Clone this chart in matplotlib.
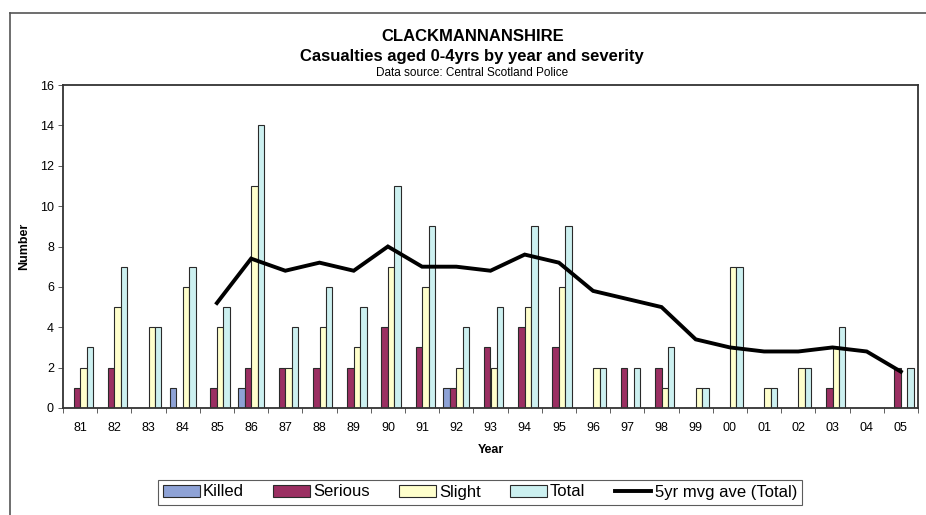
import matplotlib
matplotlib.use("Agg")
import matplotlib.pyplot as plt
import numpy as np
from matplotlib.lines import Line2D

plt.rcParams['font.family'] = ['Liberation Sans', 'DejaVu Sans']

years = ['81', '82', '83', '84', '85', '86', '87', '88', '89', '90', '91', '92', '93',
         '94', '95', '96', '97', '98', '99', '00', '01', '02', '03', '04', '05']
killed = [0, 0, 0, 1, 0, 1, 0, 0, 0, 0, 0, 1, 0, 0, 0, 0, 0, 0, 0, 0, 0, 0, 0, 0, 0]
serious = [1, 2, 0, 0, 1, 2, 2, 2, 2, 4, 3, 1, 3, 4, 3, 0, 2, 2, 0, 0, 0, 0, 1, 0, 2]
slight = [2, 5, 4, 6, 4, 11, 2, 4, 3, 7, 6, 2, 2, 5, 6, 2, 0, 1, 1, 7, 1, 2, 3, 0, 0]
total = [3, 7, 4, 7, 5, 14, 4, 6, 5, 11, 9, 4, 5, 9, 9, 2, 2, 3, 1, 7, 1, 2, 4, 0, 2]
# 5-year moving average of the totals, first available for 1985
mvg_ave = [None, None, None, None, 5.2, 7.4, 6.8, 7.2, 6.8, 8.0, 7.0, 7.0, 6.8,
           7.6, 7.2, 5.8, 5.4, 5.0, 3.4, 3.0, 2.8, 2.8, 3.0, 2.8, 1.8]

series = [('Killed', killed, '#8EA2D6'),
          ('Serious', serious, '#9B2F62'),
          ('Slight', slight, '#FFFFCC'),
          ('Total', total, '#CCF0F0')]

fig = plt.figure(figsize=(9.26, 5.15), dpi=100)
ax = fig.add_axes([63 / 926, 1 - 408 / 515, (918 - 63) / 926, (408 - 85) / 515])

x = np.arange(len(years))
bw = 0.19
for i, (name, vals, col) in enumerate(series):
    ax.bar(x + (i - 1.5) * bw, vals, width=bw, color=col, edgecolor='#2a2a2a',
           linewidth=0.8, label=name, zorder=2)

mx = [xi for xi, v in zip(x, mvg_ave) if v is not None]
my = [v for v in mvg_ave if v is not None]
ax.plot(mx, my, color='black', linewidth=2.8, zorder=3, solid_joinstyle='miter')

ax.set_xlim(-0.5, len(years) - 0.5)
ax.set_ylim(0, 16)
ax.set_yticks(range(0, 17, 2))
ax.set_xticks(np.arange(-0.5, len(years), 1.0))
ax.set_xticklabels([])
ax.set_xticks(x, minor=True)
ax.set_xticklabels(years, minor=True)
ax.tick_params(axis='x', which='major', length=3.5, width=0.6, color='#444444', direction='out')
ax.tick_params(axis='x', which='minor', length=0, pad=10, labelsize=9)
ax.tick_params(axis='y', length=3.5, width=0.6, color='#444444', pad=3, labelsize=9)

for side in ['left', 'right', 'top', 'bottom']:
    ax.spines[side].set_linewidth(1.3)
    ax.spines[side].set_color('#333333')

ax.set_xlabel('Year', fontsize=9, fontweight='bold', labelpad=7)
ax.set_ylabel('Number', fontsize=9, fontweight='bold', labelpad=7)

fig.text(0.51, 1 - 36 / 515, 'CLACKMANNANSHIRE', ha='center', va='center',
         fontsize=12, fontweight='bold')
fig.text(0.51, 1 - 57 / 515, 'Casualties aged 0-4yrs by year and severity', ha='center',
         va='center', fontsize=12, fontweight='bold')
fig.text(0.51, 1 - 73 / 515, 'Data source: Central Scotland Police', ha='center',
         va='center', fontsize=8.5)

# chart-area border (top and left edges)
fig.add_artist(Line2D([10 / 926, 1.0], [1 - 13 / 515, 1 - 13 / 515], color='#555555',
                      linewidth=1.2, transform=fig.transFigure))
fig.add_artist(Line2D([10 / 926, 10 / 926], [0, 1 - 13 / 515], color='#555555',
                      linewidth=1.2, transform=fig.transFigure))

handles, labels = ax.get_legend_handles_labels()
handles.append(Line2D([], [], color='black', linewidth=2.8))
labels.append('5yr mvg ave (Total)')
leg = fig.legend(handles, labels, loc='center', bbox_to_anchor=(480 / 926, 1 - 492 / 515),
                 ncol=5, fontsize=12, frameon=True, fancybox=False, edgecolor='#333333',
                 handlelength=2.2, handleheight=0.75, handletextpad=0.2, columnspacing=1.75,
                 borderpad=0.3, borderaxespad=0)
leg.get_frame().set_linewidth(0.8)

fig.savefig('out.png', dpi=100)
